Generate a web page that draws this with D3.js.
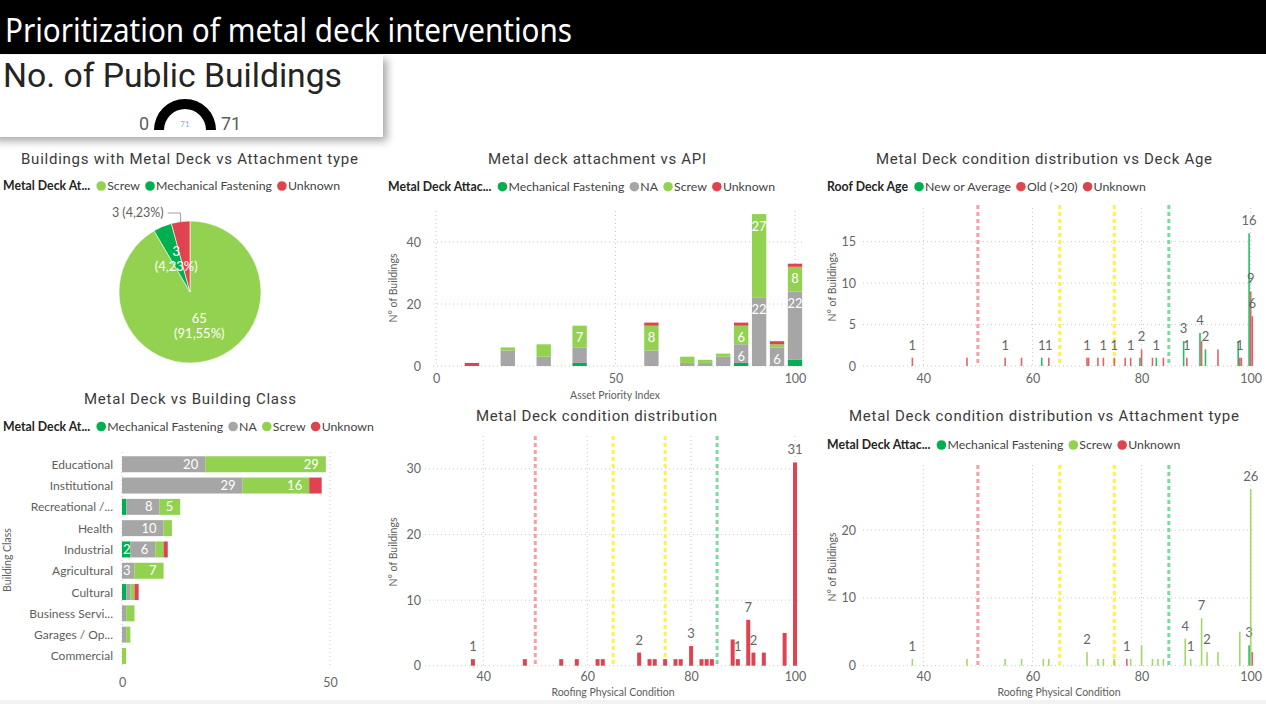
<!DOCTYPE html>
<html>
<head>
<meta charset="utf-8">
<script src="https://cdn.jsdelivr.net/npm/d3@7"></script>
<style>
  body { margin: 0; background: #ffffff; }
  svg { display: block; }
  text { font-family: Lato, "Noto Sans", sans-serif; }
</style>
</head>
<body>
<svg id="chart" width="1266" height="704"></svg>
<script>
// ---------------- DATA ----------------
const gaugeMin = 0;
const gaugeMax = 71;
const gaugeValue = 71;

const pieCategories = ["Screw", "Mechanical Fastening", "Unknown"];
const pieValues = [65, 3, 3];

const classCategories = ["Educational", "Institutional", "Recreational /...", "Health", "Industrial",
  "Agricultural", "Cultural", "Business Servi...", "Garages / Op...", "Commercial"];
const classMech    = [0, 0, 1, 0, 2, 0, 1, 0, 0, 0];
const classNA      = [20, 29, 8, 10, 6, 3, 1, 1, 1, 0];
const classScrew   = [29, 16, 5, 2, 2, 7, 1, 2, 1, 1];
const classUnknown = [0, 3, 0, 0, 1, 0, 1, 0, 0, 0];
const classTicks = [0, 50];

const apiValues  = [10, 20, 30, 40, 60, 70, 75, 80, 85, 90, 95, 100];
const apiMech    = [0, 0, 0, 1, 0, 0, 0, 0, 1, 0, 0, 2];
const apiNA      = [0, 5, 3, 5, 5, 1, 1, 3, 6, 22, 6, 22];
const apiScrew   = [0, 1, 4, 7, 8, 2, 1, 1, 6, 27, 1, 8];
const apiUnknown = [1, 0, 0, 0, 1, 0, 0, 0, 1, 0, 1, 1];
const apiXTicks = [0, 50, 100];
const apiYTicks = [0, 20, 40];

const conditionValues = [38, 48, 55, 58, 62, 63, 70, 72, 73, 75, 77, 78, 80, 82, 83, 84, 88, 89, 91, 92, 94, 98, 100];
const conditionCounts = [1, 1, 1, 1, 1, 1, 2, 1, 1, 1, 1, 1, 3, 1, 1, 1, 4, 1, 7, 2, 2, 5, 31];
const conditionLabelled = [38, 70, 80, 89, 91, 92, 100];

const ageNew     = [0, 0, 0, 0, 1, 0, 0, 0, 0, 0, 0, 0, 1, 0, 1, 0, 3, 0, 4, 2, 0, 3, 16];
const ageOld     = [1, 1, 1, 1, 0, 1, 1, 1, 1, 1, 1, 1, 2, 1, 0, 1, 0, 0, 3, 0, 2, 1, 9];
const ageUnknown = [0, 0, 0, 0, 0, 0, 1, 0, 0, 0, 0, 0, 0, 0, 0, 0, 1, 0, 0, 0, 0, 1, 6];
const ageLabelled = ["38 Old", "55 Old", "62 New", "63 Old", "70 Old", "73 Old", "75 Old", "78 Old",
  "80 Old", "83 New", "88 New", "88 Unknown", "91 New", "92 New", "98 Old", "100 New", "100 Old", "100 Unknown"];

const attMech    = [0, 0, 0, 0, 0, 0, 0, 0, 0, 0, 0, 0, 0, 0, 0, 0, 0, 0, 0, 0, 0, 0, 3];
const attScrew   = [1, 1, 1, 1, 1, 1, 2, 1, 1, 1, 0, 1, 3, 1, 1, 1, 4, 1, 7, 2, 2, 5, 26];
const attUnknown = [0, 0, 0, 0, 0, 0, 0, 0, 0, 0, 1, 0, 0, 0, 0, 0, 0, 0, 0, 0, 0, 0, 2];
const attLabelled = ["38 Screw", "70 Screw", "77 Unknown", "88 Screw", "89 Screw", "91 Screw",
  "92 Screw", "100 Screw", "100 Mech"];

const conditionXTicks = [40, 60, 80, 100];
const ageYTicks = [0, 5, 10, 15];
const conditionYTicks = [0, 10, 20, 30];
const attYTicks = [0, 10, 20];
const thresholds = [50, 65, 75, 85];

// ---------------- STYLE ----------------
const COL = {
  screw: "#93D150", mech: "#00B050", na: "#A6A6A6", unknown: "#DE4450",
  newavg: "#00B050", old: "#E0474C", unk2: "#D64550"
};
const thresholdColors = ["#F3A1A8", "#FFF24A", "#FFF24A", "#7ED8A2"];
const TITLE_FONT = "Roboto, Lato, sans-serif";
const TXT = "#605E5C";
const LEG_SIZE = "12.3px";

const svg = d3.select("#chart");
const defs = svg.append("defs");
const f = defs.append("filter").attr("id", "shadow").attr("x", "-10%").attr("y", "-20%").attr("width", "130%").attr("height", "160%");
f.append("feDropShadow").attr("dx", 4).attr("dy", 4).attr("stdDeviation", 4).attr("flood-color", "#000").attr("flood-opacity", 0.35);

// bottom strip
svg.append("rect").attr("x", 0).attr("y", 700).attr("width", 1266).attr("height", 4).attr("fill", "#F2F2F2");

// ---------------- HEADER ----------------
svg.append("rect").attr("x", 0).attr("y", 0).attr("width", 1266).attr("height", 54).attr("fill", "#000");
svg.append("text").attr("x", 5).attr("y", 42).attr("fill", "#fff")
  .style("font-family", "'Segoe UI', 'Noto Sans', sans-serif").style("font-size", "33px")
  .attr("textLength", 567).attr("lengthAdjust", "spacingAndGlyphs")
  .text("Prioritization of metal deck interventions");

// ---------------- CARD + GAUGE ----------------
svg.append("rect").attr("x", -10).attr("y", 55).attr("width", 393).attr("height", 82)
  .attr("fill", "#fff").attr("filter", "url(#shadow)");
svg.append("text").attr("x", 3).attr("y", 87).attr("fill", "#252423")
  .style("font-family", TITLE_FONT).style("font-size", "33px")
  .attr("textLength", 339).attr("lengthAdjust", "spacingAndGlyphs")
  .text("No. of Public Buildings");

const gScale = d3.scaleLinear().domain([gaugeMin, gaugeMax]).range([-Math.PI / 2, Math.PI / 2]);
const gArc = d3.arc().innerRadius(21).outerRadius(31);
const gG = svg.append("g").attr("transform", "translate(185,130)");
gG.append("path").attr("d", gArc({ startAngle: -Math.PI / 2, endAngle: Math.PI / 2 })).attr("fill", "#E6E6E6");
gG.append("path").attr("d", gArc({ startAngle: gScale(gaugeMin), endAngle: gScale(gaugeValue) })).attr("fill", "#000");
gG.append("text").attr("x", -36).attr("y", 0).attr("text-anchor", "end").attr("fill", TXT)
  .style("font-family", TITLE_FONT).style("font-size", "18px").text(gaugeMin);
gG.append("text").attr("x", 36).attr("y", 0).attr("text-anchor", "start").attr("fill", TXT)
  .style("font-family", TITLE_FONT).style("font-size", "18px").text(gaugeMax);
gG.append("text").attr("x", 0).attr("y", -3).attr("text-anchor", "middle").attr("fill", "#8FAADC")
  .style("font-size", "8px").text(gaugeValue);

// ---------------- HELPERS ----------------
function chartTitle(x, y, w, txt) {
  svg.append("text").attr("x", x).attr("y", y).attr("fill", "#3B3A39")
    .style("font-family", TITLE_FONT).style("font-size", "15px")
    .attr("textLength", w).attr("lengthAdjust", "spacing").text(txt);
}
function legend(x, y, title, items) {
  const g = svg.append("g");
  const t = g.append("text").attr("x", x).attr("y", y + 4).attr("fill", "#252423")
    .style("font-size", LEG_SIZE).style("font-weight", "bold").text(title);
  let cur = x + t.node().getComputedTextLength() + 6;
  items.forEach(([label, color]) => {
    g.append("circle").attr("cx", cur + 5).attr("cy", y).attr("r", 4.8).attr("fill", color);
    const tt = g.append("text").attr("x", cur + 11).attr("y", y + 4).attr("fill", "#444")
      .style("font-size", LEG_SIZE).text(label);
    cur = cur + 11 + tt.node().getComputedTextLength() + 5;
  });
}
function hGrid(scale, ticks, x0, x1) {
  svg.append("g").selectAll("line").data(ticks).join("line")
    .attr("x1", x0).attr("x2", x1).attr("y1", d => scale(d)).attr("y2", d => scale(d))
    .attr("stroke", "#C8C8C8").attr("stroke-dasharray", "1,3");
}
function vGrid(scale, ticks, y0, y1) {
  svg.append("g").selectAll("line").data(ticks).join("line")
    .attr("y1", y0).attr("y2", y1).attr("x1", d => scale(d)).attr("x2", d => scale(d))
    .attr("stroke", "#C8C8C8").attr("stroke-dasharray", "1,3");
}
function yAxisLabels(scale, ticks, x) {
  const ax = d3.axisLeft(scale).tickValues(ticks).tickSize(0).tickPadding(0);
  const g = svg.append("g").attr("transform", `translate(${x},0)`).call(ax);
  g.select(".domain").remove();
  g.selectAll("text").attr("fill", "#666").style("font-size", "12.5px").style("font-family", "Lato, sans-serif");
}
function xAxisLabels(scale, ticks, y) {
  const ax = d3.axisBottom(scale).tickValues(ticks).tickSize(0).tickPadding(0);
  const g = svg.append("g").attr("transform", `translate(0,${y})`).call(ax);
  g.select(".domain").remove();
  g.selectAll("text").attr("fill", "#666").style("font-size", "12.5px").style("font-family", "Lato, sans-serif");
}
function axisTitle(x, y, txt, rotate) {
  svg.append("text").attr("transform", `translate(${x},${y})` + (rotate ? " rotate(-90)" : ""))
    .attr("text-anchor", "middle").attr("fill", TXT).style("font-size", "10.5px").text(txt);
}
function thresholdLines(scale, y0, y1) {
  svg.append("g").selectAll("line").data(thresholds).join("line")
    .attr("x1", d => scale(d)).attr("x2", d => scale(d)).attr("y1", y0).attr("y2", y1)
    .attr("stroke", (d, i) => thresholdColors[i]).attr("stroke-width", 3).attr("stroke-dasharray", "4,3");
}

// ---------------- PIE ----------------
chartTitle(21, 163.5, 337, "Buildings with Metal Deck vs Attachment type");
legend(3, 186, "Metal Deck At...", [["Screw", COL.screw], ["Mechanical Fastening", COL.mech], ["Unknown", COL.unknown]]);
const pieColors = [COL.screw, COL.mech, COL.unknown];
const pieTotal = d3.sum(pieValues);
const pieData = d3.pie().sort(null).value(d => d)(pieValues);
const R = 71;
const pieG = svg.append("g").attr("transform", "translate(190,292)");
const arcP = d3.arc().innerRadius(0).outerRadius(R);
pieG.selectAll("path").data(pieData).join("path").attr("d", arcP)
  .attr("fill", (d, i) => pieColors[i]).attr("stroke", "#fff").attr("stroke-width", 0.6);
const pct = v => (v / pieTotal * 100).toFixed(2).replace(".", ",") + "%";
pieData.forEach((d, i) => {
  if (i < 2) {
    const [cx, cy] = arcP.centroid(d);
    pieG.append("text").attr("x", cx).attr("y", cy - 3).attr("text-anchor", "middle").attr("fill", "#fff")
      .style("font-size", "13px").text(d.value);
    pieG.append("text").attr("x", cx).attr("y", cy + 12).attr("text-anchor", "middle").attr("fill", "#fff")
      .style("font-size", "13px").text("(" + pct(d.value) + ")");
  } else {
    const a = (d.startAngle + d.endAngle) / 2;
    const px = Math.sin(a) * R, py = -Math.cos(a) * R;
    const ey = -79;
    pieG.append("path").attr("d", `M${px},${py + 1}L${px},${ey}L${px - 13},${ey}`)
      .attr("fill", "none").attr("stroke", "#A0A0A0").attr("stroke-width", 1);
    pieG.append("text").attr("x", px - 17).attr("y", ey + 4).attr("text-anchor", "end").attr("fill", TXT)
      .style("font-size", "12.5px").text(d.value + " (" + pct(d.value) + ")");
  }
});

// ---------------- BUILDING CLASS BARS ----------------
chartTitle(84, 403.5, 212, "Metal Deck vs Building Class");
legend(3, 426.5, "Metal Deck At...", [["Mechanical Fastening", COL.mech], ["NA", COL.na], ["Screw", COL.screw], ["Unknown", COL.unknown]]);
const classKeys = ["Mechanical Fastening", "NA", "Screw", "Unknown"];
const classColors = [COL.mech, COL.na, COL.screw, COL.unknown];
const classRows = classCategories.map((c, i) => ({
  cat: c, "Mechanical Fastening": classMech[i], "NA": classNA[i], "Screw": classScrew[i], "Unknown": classUnknown[i]
}));
const xB = d3.scaleLinear().domain([0, 50]).range([122, 330]);
const yB = d3.scaleBand().domain(classCategories).range([453.6, 666.6]).paddingInner(0.25).paddingOuter(0.125);
vGrid(xB, classTicks, 452, 665);
const stackB = d3.stack().keys(classKeys)(classRows);
stackB.forEach((layer, k) => {
  svg.append("g").selectAll("rect").data(layer).join("rect")
    .attr("x", d => xB(d[0])).attr("width", d => xB(d[1]) - xB(d[0]))
    .attr("y", d => yB(d.data.cat)).attr("height", yB.bandwidth()).attr("fill", classColors[k]);
});
stackB.forEach((layer, k) => {
  const key = classKeys[k];
  layer.forEach(d => {
    const v = d[1] - d[0];
    if ((v >= 3 && key !== "Unknown") || (v >= 2 && key === "Mechanical Fastening")) {
      const t = svg.append("text").attr("y", yB(d.data.cat) + yB.bandwidth() / 2 + 4.5)
        .attr("text-anchor", "end").attr("fill", "#fff").style("font-size", "13px").text(v);
      const w = t.node().getComputedTextLength();
      t.attr("x", Math.max(xB(d[1]) - 7, xB(d[0]) + 1 + w));
    }
  });
});
svg.append("g").selectAll("text").data(classCategories).join("text")
  .attr("x", 113).attr("y", d => yB(d) + yB.bandwidth() / 2 + 4.5).attr("text-anchor", "end")
  .attr("fill", TXT).style("font-size", "12px").text(d => d);
xAxisLabels(xB, classTicks, 678);
axisTitle(11, 560, "Building Class", true);

// ---------------- API STACKED ----------------
chartTitle(488, 163.5, 218, "Metal deck attachment vs API");
legend(388, 186.7, "Metal Deck Attac...", [["Mechanical Fastening", COL.mech], ["NA", COL.na], ["Screw", COL.screw], ["Unknown", COL.unknown]]);
const apiKeys = ["Mechanical Fastening", "NA", "Screw", "Unknown"];
const apiRows = apiValues.map((v, i) => ({
  api: v, "Mechanical Fastening": apiMech[i], "NA": apiNA[i], "Screw": apiScrew[i], "Unknown": apiUnknown[i]
}));
const xC = d3.scaleLinear().domain([0, 100]).range([436, 795]);
const yC = d3.scaleLinear().domain([0, 50]).range([366, 211]);
hGrid(yC, apiYTicks, 433, 802);
vGrid(xC, apiXTicks, 211, 366);
const bwC = xC(4) - xC(0);
const stackC = d3.stack().keys(apiKeys)(apiRows);
stackC.forEach((layer, k) => {
  svg.append("g").selectAll("rect").data(layer.filter(d => d[1] > d[0])).join("rect")
    .attr("x", d => xC(d.data.api) - bwC / 2).attr("width", bwC)
    .attr("y", d => yC(d[1])).attr("height", d => yC(d[0]) - yC(d[1])).attr("fill", classColors[k]);
});
stackC.forEach(layer => {
  layer.forEach(d => {
    const v = d[1] - d[0];
    if (v >= 6) {
      svg.append("text").attr("x", xC(d.data.api)).attr("y", yC(d[1]) + 16.5).attr("text-anchor", "middle")
        .attr("fill", "#fff").style("font-size", "13px").text(v);
    }
  });
});
yAxisLabels(yC, apiYTicks, 421);
xAxisLabels(xC, apiXTicks, 374);
axisTitle(615, 398.5, "Asset Priority Index", false);
axisTitle(397, 288, "N° of Buildings", true);

// ---------------- CLUSTERED THIN BAR CHART ----------------
function clustered(xS, yS, seriesList, labelled) {
  const sub = 1.6;
  seriesList.forEach(([name, vals, color], k) => {
    const pts = conditionValues.map((c, i) => ({ c, v: vals[i] })).filter(d => d.v > 0);
    const off = (k - (seriesList.length - 1) / 2) * sub;
    svg.append("g").selectAll("rect").data(pts).join("rect")
      .attr("x", d => xS(d.c) + off - sub / 2).attr("width", sub)
      .attr("y", d => yS(d.v)).attr("height", d => yS(0) - yS(d.v)).attr("fill", color)
      .attr("fill-opacity", 0.85);
    svg.append("g").selectAll("text").data(pts.filter(d => labelled.includes(d.c + " " + name))).join("text")
      .attr("x", d => xS(d.c) + off).attr("y", d => yS(d.v) - 8).attr("text-anchor", "middle")
      .attr("fill", "#666").style("font-size", "13px").text(d => d.v);
  });
}

// ---------------- DECK AGE ----------------
chartTitle(876, 163.5, 336, "Metal Deck condition distribution vs Deck Age");
legend(827, 186.7, "Roof Deck Age", [["New or Average", COL.newavg], ["Old (>20)", COL.old], ["Unknown", COL.unk2]]);
const xD = d3.scaleLinear().domain([40, 100]).range([923.3, 1250.7]);
const yD = d3.scaleLinear().domain([0, 19]).range([366, 208.5]);
hGrid(yD, ageYTicks, 863, 1253);
vGrid(xD, conditionXTicks, 208, 366);
thresholdLines(xD, 205, 366);
clustered(xD, yD, [["New", ageNew, COL.newavg], ["Old", ageOld, COL.old], ["Unknown", ageUnknown, COL.unk2]], ageLabelled);
yAxisLabels(yD, ageYTicks, 856);
xAxisLabels(xD, conditionXTicks, 374);
axisTitle(836, 287, "N° of Buildings", true);

// ---------------- CONDITION DISTRIBUTION ----------------
chartTitle(476, 421, 241, "Metal Deck condition distribution");
const xE = d3.scaleLinear().domain([40, 100]).range([483.3, 795]);
const yE = d3.scaleLinear().domain([0, 35]).range([665.7, 436.2]);
hGrid(yE, conditionYTicks, 425, 798);
vGrid(xE, conditionXTicks, 436, 666);
thresholdLines(xE, 436, 666);
const bwE = xE(40.77) - xE(40);
const condPts = conditionValues.map((c, i) => ({ c, v: conditionCounts[i] }));
svg.append("g").selectAll("rect").data(condPts).join("rect")
  .attr("x", d => xE(d.c) - bwE / 2).attr("width", bwE)
  .attr("y", d => yE(d.v)).attr("height", d => yE(0) - yE(d.v)).attr("fill", COL.unknown);
svg.append("g").selectAll("text").data(condPts.filter(d => conditionLabelled.includes(d.c))).join("text")
  .attr("x", d => xE(d.c)).attr("y", d => yE(d.v) - 8).attr("text-anchor", "middle")
  .attr("fill", "#666").style("font-size", "13px").text(d => d.v);
yAxisLabels(yE, conditionYTicks, 421);
xAxisLabels(xE, conditionXTicks, 672);
axisTitle(613, 695.5, "Roofing Physical Condition", false);
axisTitle(396.5, 552, "N° of Buildings", true);

// ---------------- ATTACHMENT TYPE ----------------
chartTitle(849, 421, 390, "Metal Deck condition distribution vs Attachment type");
legend(827, 445, "Metal Deck Attac...", [["Mechanical Fastening", COL.mech], ["Screw", COL.screw], ["Unknown", COL.unknown]]);
const xF = d3.scaleLinear().domain([40, 100]).range([923.3, 1250.7]);
const yF = d3.scaleLinear().domain([0, 29.6]).range([665.7, 465]);
hGrid(yF, attYTicks, 863, 1253);
vGrid(xF, conditionXTicks, 465, 666);
thresholdLines(xF, 465, 666);
clustered(xF, yF, [["Mech", attMech, COL.mech], ["Screw", attScrew, COL.screw], ["Unknown", attUnknown, COL.unknown]], attLabelled);
yAxisLabels(yF, attYTicks, 856);
xAxisLabels(xF, conditionXTicks, 672);
axisTitle(1059, 695.5, "Roofing Physical Condition", false);
axisTitle(836, 567, "N° of Buildings", true);
</script>
</body>
</html>
